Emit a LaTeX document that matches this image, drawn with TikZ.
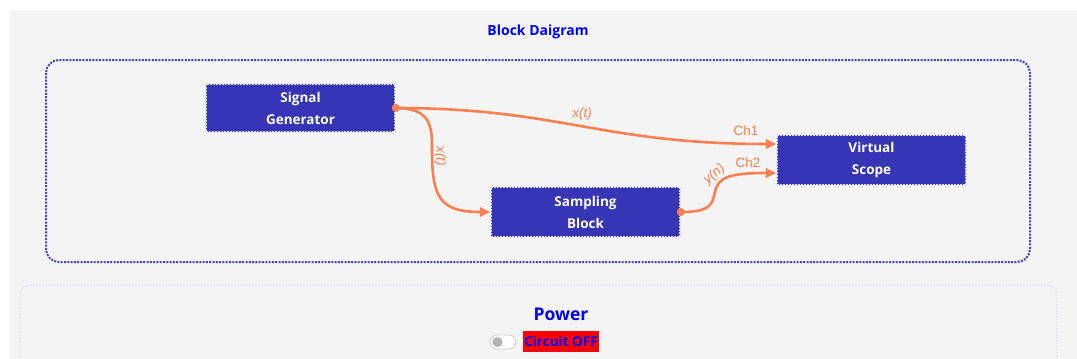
\documentclass[tikz,border=0pt]{standalone}
\usepackage{fontspec}
\setmainfont{Open Sans}
\newfontfamily\labelfont{Liberation Sans}
\usetikzlibrary{calc,arrows.meta}
\definecolor{bgg}{HTML}{F4F4F4}
\definecolor{boxblue}{HTML}{3535B5}
\definecolor{contblue}{HTML}{4444C0}
\definecolor{wire}{HTML}{FF7F50}
\definecolor{lav}{HTML}{E4DEF6}
\definecolor{ttl}{HTML}{0000FF}
\tikzset{
  blockbox/.style={fill=boxblue, draw=lav, line width=1.6pt, dash pattern=on 1.6pt off 1.4pt,
    minimum width=189pt, minimum height=48pt, inner sep=0pt, text=white, align=center,
    font=\fontsize{13.5}{22}\selectfont\bfseries},
  wireline/.style={draw=wire, line width=2.6pt},
  wirearrow/.style={wireline, -{Triangle[length=10pt,width=9pt]}},
  wlabel/.style={text=wire, font=\labelfont\fontsize{13.5}{15}\selectfont, inner sep=1pt},
  wlabeli/.style={wlabel, font=\labelfont\fontsize{13.5}{15}\selectfont\itshape},
  startdot/.style={circle, fill=wire, minimum size=8pt, inner sep=0pt},
}
\begin{document}
\begin{tikzpicture}[x=1pt,y=-1pt]
\useasboundingbox (0,0) rectangle (1077,359);
\fill[white] (0,0) rectangle (1077,359);
\fill[bgg] (10,10) rectangle (1077,359);
\node[text=ttl, font=\fontsize{14}{16}\selectfont\bfseries] (title) at (538,32) {Block Daigram};
\draw[contblue, line width=2pt, dash pattern=on 2pt off 1.3pt, rounded corners=13pt] (46,60) rectangle (1030,262);
\node[blockbox] (sg) at (300.5,108) {Signal\\Generator};
\node[blockbox, minimum height=50pt] (sb) at (585.5,212) {Sampling\\Block};
\node[blockbox, minimum height=50pt] (vs) at (871.5,160) {Virtual\\Scope};
\coordinate (ch1) at ($(vs.west)+(0,-16)$);
\coordinate (ch2) at ($(vs.west)+(0,13)$);
\draw[wirearrow] (sg.east) .. controls (560,108) and (600,144) .. (ch1);
\draw[wirearrow] (sg.east) .. controls (432,108) and (432,128) .. (432,150) .. controls (432,198) and (440,212) .. (sb.west);
\draw[wirearrow] (sb.east) .. controls (710,212) and (712,205) .. (715,192) .. controls (718,177) and (730,173) .. (ch2);
\node[startdot] (d1) at (sg.east) {};
\node[startdot] (d2) at (sb.east) {};
\node[wlabeli] (lx1) at (582,114) {x(t)};
\node[wlabel] (lc1) at (746,131) {Ch1};
\coordinate (lx2a) at (440,140);
\coordinate (lx2b) at (440,172);
\path (lx2a) -- node[wlabeli, sloped] (lx2) {x(t)} (lx2b);
\coordinate (lya) at (700,187);
\coordinate (lyb) at (729,162);
\path (lya) -- node[wlabeli, sloped] (ly) {y(n)} (lyb);
\node[wlabel] (lc2) at (748,163) {Ch2};
\draw[lav, line width=1.5pt, dash pattern=on 1.5pt off 1.5pt, rounded corners=10pt] (20,372) -- (20,285) -- (1057,285) -- (1057,372);
\node[text=ttl, font=\fontsize{17.5}{19}\selectfont\bfseries] (power) at (561,314) {Power};
\node[fill=red, text=ttl, font=\fontsize{13.5}{14}\selectfont\bfseries, inner sep=0pt, minimum width=76pt, minimum height=21pt] (coff) at (561,341.5) {Circuit OFF};
\draw[gray!40, fill=white, line width=0.8pt, rounded corners=7pt] (490,335) rectangle (516,349);
\fill[gray!60] (497.5,342) circle (5pt);
\end{tikzpicture}
\end{document}
